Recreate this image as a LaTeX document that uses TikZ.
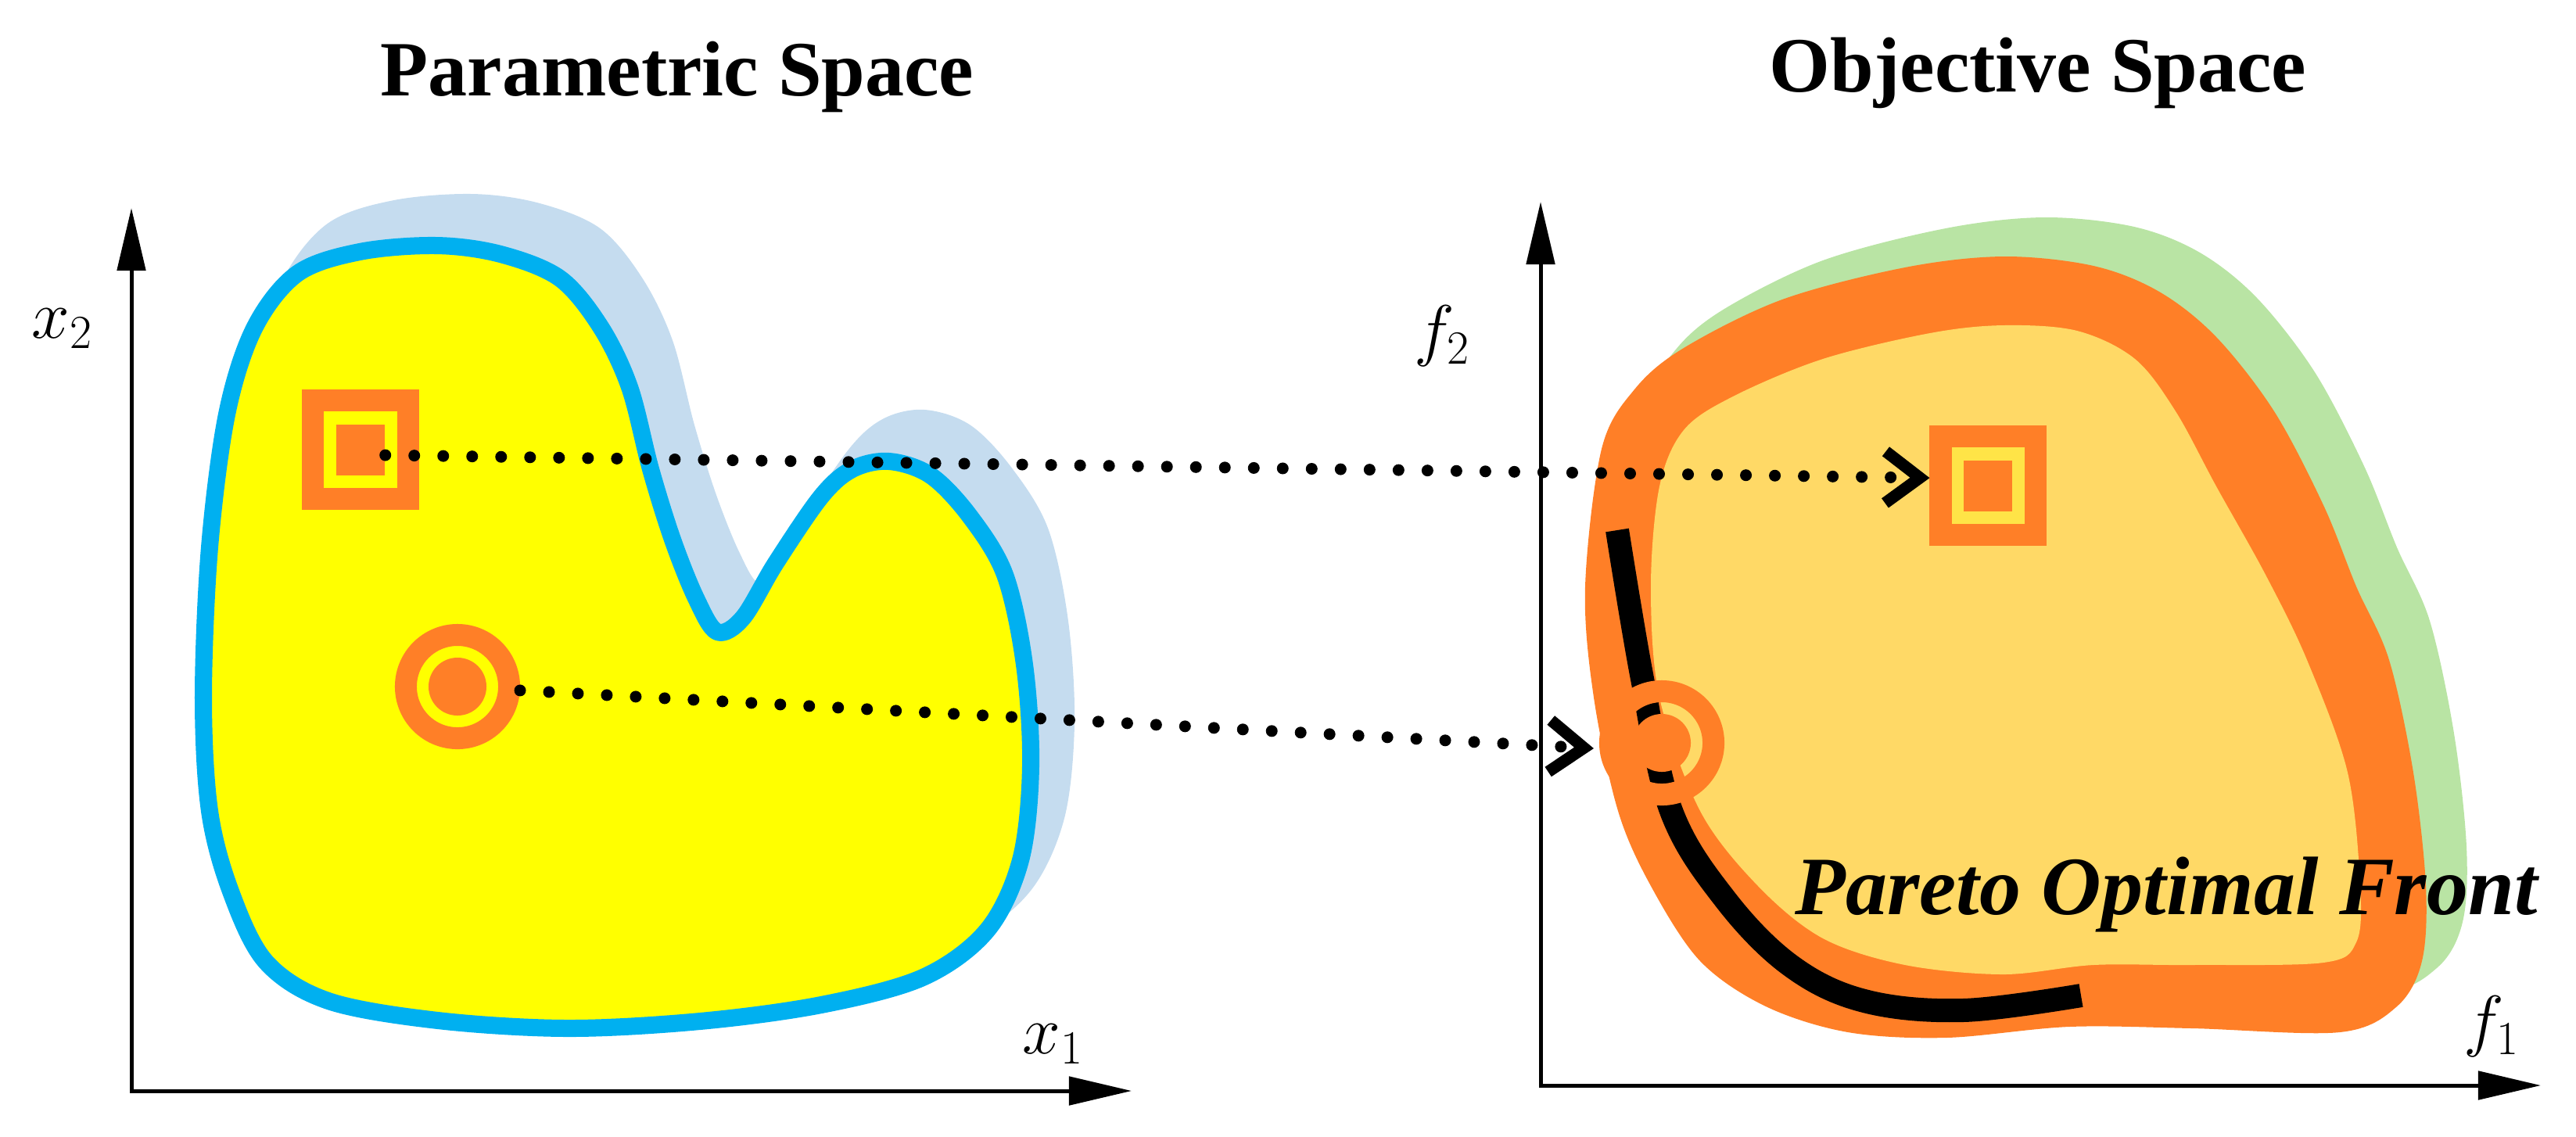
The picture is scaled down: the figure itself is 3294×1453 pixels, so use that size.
\documentclass[tikz,border=0pt]{standalone}
\usepackage{fontspec}
\setmainfont{Liberation Serif}
\usetikzlibrary{arrows.meta}
\definecolor{orng}{HTML}{FF7F27}
\definecolor{lorng}{HTML}{FFD966}
\definecolor{lgreen}{HTML}{B9E4A4}
\definecolor{cyanb}{HTML}{00B0F0}
\definecolor{lblue}{HTML}{C5DCEF}
\definecolor{yel}{HTML}{FFFF00}
\tikzset{
  axisline/.style={line width=0.5mm, {Triangle[length=8mm,width=3.6mm]}-{Triangle[length=8mm,width=3.6mm]}},
  dotline/.style={line width=1.5mm, line cap=round, dash pattern=on 0mm off 3.7mm,
     -{Straight Barb[length=4.4mm,width=6.6mm]}},
  sqmark/.style={rectangle, draw=orng, line width=2.8mm, minimum width=12.1mm, minimum height=12.5mm, inner sep=0pt},
  sqinner/.style={rectangle, fill=orng, minimum width=6.2mm, minimum height=6.5mm, inner sep=0pt},
  cmark/.style={circle, draw=orng, line width=2.8mm, minimum size=13.2mm, inner sep=0pt},
  cinner/.style={circle, fill=orng, minimum size=7.4mm, inner sep=0pt},
  titletext/.style={font=\fontsize{10mm}{12mm}\selectfont\bfseries, inner sep=0pt},
  axlabel/.style={font=\fontsize{9.5mm}{11mm}\selectfont, inner sep=0pt},
}
\begin{document}
\begin{tikzpicture}[x=0.01cm, y=-0.01cm]
\useasboundingbox (0,0) rectangle (3294,1453);

% ---------- left blob: shadow ----------
\begin{scope}[shift={(45,-55)}]
\filldraw[lblue, line width=2.2mm, line join=round] plot[smooth cycle, tension=0.55] coordinates {
(268,700) (290,530) (325,420) (380,350) (460,322) (558,314) (640,325) (716,356) (768,418) (805,495)
(832,600) (860,690) (890,765) (917,808) (950,790) (992,720) (1050,635) (1090,600) (1137,590) (1190,608)
(1240,660) (1285,735) (1310,850) (1318,980) (1305,1100) (1262,1190) (1180,1250) (1050,1285) (895,1306)
(726,1315) (560,1305) (420,1280) (340,1230) (295,1140) (268,1037) (260,892)};
\end{scope}
% ---------- left blob ----------
\filldraw[fill=yel, draw=cyanb, line width=2.2mm, line join=round] plot[smooth cycle, tension=0.55] coordinates {
(268,700) (290,530) (325,420) (380,350) (460,322) (558,314) (640,325) (716,356) (768,418) (805,495)
(832,600) (860,690) (890,765) (917,808) (950,790) (992,720) (1050,635) (1090,600) (1137,590) (1190,608)
(1240,660) (1285,735) (1310,850) (1318,980) (1305,1100) (1262,1190) (1180,1250) (1050,1285) (895,1306)
(726,1315) (560,1305) (420,1280) (340,1230) (295,1140) (268,1037) (260,892)};

% ---------- right blob: shadow ----------
\begin{scope}[shift={(52,-50)}]
\fill[lgreen] plot[smooth cycle, tension=0.55] coordinates {
(2027,750) (2048,574) (2090,498) (2153,445) (2279,383) (2436,342) (2562,328) (2677,340) (2761,373)
(2834,431) (2908,526) (2971,646) (3013,750) (3055,844) (3086,988) (3102,1133) (3097,1229) (3065,1287)
(2992,1320) (2803,1315) (2646,1313) (2489,1327) (2363,1320) (2258,1287) (2174,1229) (2111,1133)
(2069,1037) (2038,892)};
\end{scope}
% ---------- right blob: orange ring and inner region ----------
\fill[orng] plot[smooth cycle, tension=0.55] coordinates {
(2027,750) (2048,574) (2090,498) (2153,445) (2279,383) (2436,342) (2562,328) (2677,340) (2761,373)
(2834,431) (2908,526) (2971,646) (3013,750) (3055,844) (3086,988) (3102,1133) (3097,1229) (3065,1287)
(2992,1320) (2803,1315) (2646,1313) (2489,1327) (2363,1320) (2258,1287) (2174,1229) (2111,1133)
(2069,1037) (2038,892)};
\fill[lorng] plot[smooth cycle, tension=0.55] coordinates {
(2111,750) (2122,622) (2153,550) (2216,507) (2331,459) (2468,426) (2562,416) (2656,423) (2730,459)
(2782,526) (2834,622) (2897,735) (2950,844) (3002,988) (3018,1133) (3013,1205) (2971,1231) (2803,1234)
(2677,1234) (2562,1246) (2436,1234) (2331,1200) (2248,1133) (2174,1037) (2122,892)};

% ---------- Pareto optimal front ----------
\draw[black, line width=3mm, line cap=butt] plot[smooth, tension=0.6] coordinates {
(2068,678) (2100,868) (2137,1037) (2206,1150) (2290,1235) (2384,1280) (2510,1292) (2661,1273)};

% ---------- markers ----------
\node[sqmark] (sqL) at (461,575) {};
\node[sqinner] (sqLi) at (461,575) {};
\node[cmark] (circL) at (585,878) {};
\node[cinner] (circLi) at (585,878) {};
\node[sqmark, fill=yel, fill opacity=0.3] (sqR) at (2542,621) {};
\node[sqinner] (sqRi) at (2542,621) {};
\node[cmark] (circR) at (2125,950) {};
\node[cinner] (circRi) at (2125,950) {};

% ---------- mapping arrows ----------
\draw[dotline] ([yshift=-2pt]sqLi.east) -- ([yshift=2.8pt]sqR.west);
\draw[dotline] ([yshift=-1.4pt]circL.east) -- ([xshift=-2pt,yshift=-2pt]circR.west);

% ---------- axes ----------
\coordinate (oL) at (168,1395);
\coordinate (yL) at (168,266);
\coordinate (xL) at (1447,1395);
\coordinate (oR) at (1970,1388);
\coordinate (yR) at (1970,258);
\coordinate (xR) at (3249,1388);
\draw[axisline] (yL) -- (oL) -- (xL);
\draw[axisline] (yR) -- (oR) -- (xR);

% ---------- labels ----------
\node[titletext, anchor=base] (tL) at (866,122) {Parametric Space};
\node[titletext, anchor=base] (tR) at (2606,117) {Objective Space};
\node[axlabel] (lx2) at (80,420) {$x_2$};
\node[axlabel] (lx1) at (1347,1335) {$x_1$};
\node[axlabel] (lf2) at (1844,430) {$f_2$};
\node[axlabel] (lf1) at (3186,1313) {$f_1$};
\node[font=\fontsize{10.6mm}{12mm}\selectfont\bfseries\itshape, anchor=base west, inner sep=0pt] (pof) at (2295,1169) {Pareto Optimal Front};
\end{tikzpicture}
\end{document}
